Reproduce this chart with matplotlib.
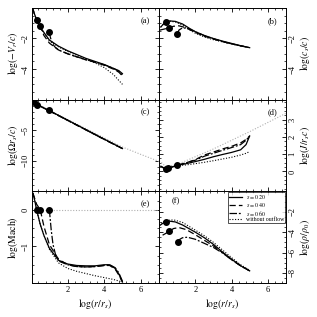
import matplotlib
matplotlib.use("Agg")
import matplotlib.pyplot as plt
from matplotlib.ticker import MultipleLocator

plt.rcParams['font.family'] = ['Liberation Serif', 'DejaVu Serif']
plt.rcParams['mathtext.fontset'] = 'stix'

# ---------------- data ----------------
series_labels = [r'$s=0.20$', r'$s=0.40$', r'$s=0.60$', 'without outflow']

# (a) log(-V_r/c)
a_x_s20 = [0.08, 0.2, 0.32, 0.5, 0.7, 1.0, 1.5, 2.0, 2.5, 3.0, 3.5, 4.0, 4.5, 4.8, 5.0]
a_y_s20 = [0.0, -0.45, -0.82, -1.25, -1.6, -2.1, -2.5, -2.8, -3.05, -3.3, -3.5, -3.7, -3.95, -4.1, -4.3]
a_x_s40 = [0.08, 0.2, 0.35, 0.5, 0.7, 1.0, 1.5, 2.0, 2.5, 3.0, 3.5, 4.0, 4.5, 4.8, 5.0]
a_y_s40 = [0.0, -0.5, -0.88, -1.21, -1.8, -2.3, -2.75, -3.0, -3.2, -3.4, -3.55, -3.75, -4.0, -4.2, -4.45]
a_x_s60 = [1.0, 1.05, 1.15, 1.3, 1.5, 2.0, 2.5, 3.0, 3.5, 4.0, 4.5, 4.8, 5.0]
a_y_s60 = [-1.57, -1.9, -2.3, -2.55, -2.75, -3.0, -3.2, -3.38, -3.55, -3.72, -3.95, -4.15, -4.4]
a_x_no = [0.08, 0.2, 0.32, 0.5, 0.7, 1.0, 1.5, 2.0, 2.5, 3.0, 3.5, 4.0, 4.5, 5.0]
a_y_no = [0.0, -0.45, -0.82, -1.25, -1.65, -2.15, -2.55, -2.85, -3.1, -3.35, -3.6, -3.9, -4.35, -5.0]
a_dot_x = [0.32, 0.5, 1.0]
a_dot_y = [-0.82, -1.21, -1.57]

# (b) log(c_s/c)
b_x_s20 = [0.1, 0.25, 0.38, 0.6, 0.9, 1.3, 1.7, 2.0, 2.5, 3.0, 3.5, 4.0, 4.5, 5.0]
b_y_s20 = [-1.25, -1.05, -0.92, -0.85, -0.88, -1.05, -1.35, -1.55, -1.8, -2.0, -2.17, -2.32, -2.47, -2.6]
b_x_s40 = [0.05, 0.3, 0.53, 0.8, 1.1, 1.5, 2.0, 2.5, 3.0, 3.5, 4.0, 4.5, 5.0]
b_y_s40 = [-1.45, -1.38, -1.31, -1.2, -1.17, -1.3, -1.6, -1.85, -2.03, -2.2, -2.35, -2.48, -2.6]
b_x_s60 = [1.02, 1.1, 1.3, 1.6, 2.0, 2.5, 3.0, 3.5, 4.0, 4.5, 5.0]
b_y_s60 = [-1.68, -1.45, -1.3, -1.35, -1.55, -1.82, -2.02, -2.2, -2.35, -2.48, -2.6]
b_x_no = [0.1, 0.25, 0.38, 0.6, 0.9, 1.3, 1.7, 2.0, 2.5, 3.0, 3.5, 4.0, 4.5, 5.0]
b_y_no = [-1.25, -1.05, -0.92, -0.87, -0.92, -1.12, -1.45, -1.65, -1.9, -2.08, -2.22, -2.35, -2.48, -2.6]
b_dot_x = [0.38, 0.53, 1.02]
b_dot_y = [-0.92, -1.31, -1.68]

# (c) log(Omega r_s/c)
c_x_s20 = [0.1, 0.3, 0.5, 1.0, 2.0, 3.0, 4.0, 5.0]
c_y_s20 = [-0.3, -0.75, -1.05, -1.8, -3.35, -4.9, -6.45, -8.0]
c_x_s40 = [0.1, 0.3, 0.5, 1.0, 2.0, 3.0, 4.0, 5.0]
c_y_s40 = [-0.3, -0.78, -1.1, -1.85, -3.4, -4.95, -6.5, -8.0]
c_x_s60 = [1.0, 2.0, 3.0, 4.0, 5.0]
c_y_s60 = [-1.8, -3.38, -4.95, -6.5, -8.0]
c_x_no = [0.1, 0.3, 0.5, 1.0, 2.0, 3.0, 4.0, 5.0]
c_y_no = [-0.3, -0.75, -1.05, -1.8, -3.35, -4.9, -6.45, -8.0]
c_x_kep = [0.1, 1.0, 2.0, 3.0, 4.0, 5.0, 6.0, 7.0]
c_y_kep = [-0.3, -1.75, -3.25, -4.75, -6.25, -7.75, -8.95, -10.1]
c_dot_x = [0.15, 0.34, 0.98]
c_dot_y = [-0.43, -0.8, -1.77]

# (d) log(J/(r_s c))
d_x_s20 = [0.1, 0.25, 0.4, 0.7, 1.0, 1.5, 2.0, 2.5, 3.0, 3.5, 4.0, 4.5, 4.8, 5.0]
d_y_s20 = [0.3, 0.2, 0.17, 0.25, 0.35, 0.45, 0.57, 0.7, 0.85, 0.98, 1.1, 1.25, 1.55, 2.05]
d_x_s40 = [0.1, 0.25, 0.4, 0.7, 1.0, 1.5, 2.0, 2.5, 3.0, 3.5, 4.0, 4.5, 4.8, 5.0]
d_y_s40 = [0.3, 0.22, 0.18, 0.25, 0.35, 0.5, 0.68, 0.95, 1.12, 1.3, 1.45, 1.65, 1.85, 2.05]
d_x_s60 = [1.0, 1.5, 2.0, 2.5, 3.0, 3.5, 4.0, 4.5, 4.8, 5.0]
d_y_s60 = [0.35, 0.5, 0.65, 0.88, 1.05, 1.22, 1.38, 1.55, 1.8, 2.05]
d_x_no = [0.1, 0.25, 0.4, 0.7, 1.0, 1.5, 2.0, 2.5, 3.0, 3.5, 4.0, 4.5, 4.8, 5.0]
d_y_no = [0.3, 0.2, 0.17, 0.25, 0.33, 0.38, 0.45, 0.53, 0.62, 0.72, 0.82, 0.95, 1.05, 1.15]
d_x_kep = [0.0, 0.1, 0.3, 0.5, 1.0, 2.0, 3.0, 4.0, 5.0, 6.0, 7.0]
d_y_kep = [0.6, 0.55, 0.35, 0.3, 0.4, 0.85, 1.3, 1.8, 2.3, 2.83, 3.36]
d_dot_x = [0.38, 0.5, 1.02]
d_dot_y = [0.17, 0.2, 0.35]

# (e) log(Mach)
e_x_s20 = [0.1, 0.2, 0.3, 0.5, 0.7, 1.0, 1.5, 2.0, 2.5, 3.0, 3.5, 4.0, 4.3, 4.6, 4.8, 5.0]
e_y_s20 = [0.45, 0.25, 0.0, -0.4, -0.7, -1.05, -1.38, -1.48, -1.52, -1.53, -1.53, -1.5, -1.5, -1.6, -1.75, -1.97]
e_x_s40 = [0.1, 0.2, 0.3, 0.5, 0.7, 1.0, 1.5, 2.0, 2.5, 3.0, 3.5, 4.0, 4.3, 4.6, 4.8, 5.0]
e_y_s40 = [0.45, 0.3, 0.15, 0.0, -0.45, -0.95, -1.35, -1.5, -1.55, -1.56, -1.55, -1.52, -1.52, -1.62, -1.78, -1.97]
e_x_s60 = [1.0, 1.1, 1.2, 1.35, 1.6, 2.0, 2.5, 3.0, 3.5, 4.0, 4.3, 4.6, 4.8, 5.0]
e_y_s60 = [0.0, -0.55, -0.95, -1.25, -1.42, -1.5, -1.55, -1.56, -1.55, -1.52, -1.5, -1.58, -1.72, -1.95]
e_x_no = [0.1, 0.2, 0.3, 0.5, 0.7, 1.0, 1.5, 2.0, 2.5, 3.0, 3.5, 4.0, 4.5, 5.0]
e_y_no = [0.45, 0.25, 0.0, -0.4, -0.7, -1.08, -1.45, -1.6, -1.68, -1.74, -1.8, -1.85, -1.9, -1.97]
e_x_sonic = [0.0, 7.0]
e_y_sonic = [0.0, 0.0]
e_dot_x = [0.3, 0.5, 1.0]
e_dot_y = [0.0, 0.0, 0.0]

# (f) log(rho/rho_0)
f_x_s20 = [0.0, 0.2, 0.38, 0.6, 0.9, 1.3, 1.7, 2.0, 2.5, 3.0, 3.5, 4.0, 4.5, 5.0]
f_y_s20 = [-3.4, -3.15, -2.96, -2.93, -3.0, -3.3, -3.7, -4.0, -4.55, -5.2, -5.95, -6.65, -7.3, -7.8]
f_x_s40 = [0.2, 0.4, 0.56, 0.8, 1.1, 1.5, 2.0, 2.5, 3.0, 3.5, 4.0, 4.5, 5.0]
f_y_s40 = [-4.3, -4.1, -3.93, -3.65, -3.55, -3.75, -4.25, -4.8, -5.35, -6.0, -6.7, -7.3, -7.8]
f_x_s60 = [1.05, 1.15, 1.3, 1.57, 2.0, 2.5, 3.0, 3.5, 4.0, 4.5, 5.0]
f_y_s60 = [-5.0, -4.7, -4.55, -4.5, -4.7, -5.1, -5.5, -6.05, -6.7, -7.3, -7.8]
f_x_no = [0.0, 0.2, 0.4, 0.82, 1.3, 2.0, 2.5, 3.0, 3.5, 4.0, 4.5, 5.0]
f_y_no = [-3.3, -3.0, -2.85, -2.8, -3.05, -3.8, -4.35, -5.0, -5.75, -6.5, -7.2, -7.75]
f_dot_x = [0.38, 0.56, 1.05]
f_dot_y = [-2.96, -3.93, -5.0]

panel_tags = ['(a)', '(b)', '(c)', '(d)', '(e)', '(f)']
y_labels = [r'$\log(-V_r/c)$', r'$\log(c_s/c)$', r'$\log(\Omega r_s/c)$',
            r'$\log(J/r_s c)$', r'$\log(\mathrm{Mach})$', r'$\log(\rho/\rho_0)$']
y_limits = [(-6, 0), (-6, 0), (-15, 0), (-1.15, 4.15), (-2, 0.5), (-9, 0)]
y_ticks = [[-4, -2], [-4, -2], [-10, -5], [0, 1, 2, 3], [-1, 0], [-8, -6, -4, -2]]
y_minor = [0.5, 0.5, 1.0, 0.25, 0.25, 0.5]
x_ticks = [2, 4, 6]

# ---------------- figure ----------------
fig, axes = plt.subplots(3, 2, figsize=(3.17, 3.17), dpi=100, sharex=False)
fig.subplots_adjust(left=0.101, right=0.902, top=0.975, bottom=0.107, hspace=0, wspace=0)

styles = [dict(color='black', lw=0.9, ls='-'),
          dict(color='black', lw=0.9, ls=(0, (5, 2.5))),
          dict(color='black', lw=0.9, ls=(0, (6, 1.5, 1.5, 1.5))),
          dict(color='black', lw=0.8, ls=(0, (1, 1.5)))]
gray = dict(color='#b0b0b0', lw=0.8, ls=(0, (1, 1.5)))

data = [
    [(a_x_s20, a_y_s20), (a_x_s40, a_y_s40), (a_x_s60, a_y_s60), (a_x_no, a_y_no), None, (a_dot_x, a_dot_y)],
    [(b_x_s20, b_y_s20), (b_x_s40, b_y_s40), (b_x_s60, b_y_s60), (b_x_no, b_y_no), None, (b_dot_x, b_dot_y)],
    [(c_x_s20, c_y_s20), (c_x_s40, c_y_s40), (c_x_s60, c_y_s60), (c_x_no, c_y_no), (c_x_kep, c_y_kep), (c_dot_x, c_dot_y)],
    [(d_x_s20, d_y_s20), (d_x_s40, d_y_s40), (d_x_s60, d_y_s60), (d_x_no, d_y_no), (d_x_kep, d_y_kep), (d_dot_x, d_dot_y)],
    [(e_x_s20, e_y_s20), (e_x_s40, e_y_s40), (e_x_s60, e_y_s60), (e_x_no, e_y_no), (e_x_sonic, e_y_sonic), (e_dot_x, e_dot_y)],
    [(f_x_s20, f_y_s20), (f_x_s40, f_y_s40), (f_x_s60, f_y_s60), (f_x_no, f_y_no), None, (f_dot_x, f_dot_y)],
]

for i, ax in enumerate(axes.flat):
    d = data[i]
    if d[4] is not None:
        ax.plot(d[4][0], d[4][1], **gray)
    handles = []
    for k in range(4):
        h, = ax.plot(d[k][0], d[k][1], **styles[k])
        handles.append(h)
    ax.plot(d[5][0], d[5][1], 'o', color='black', ms=4, zorder=5)

    ax.set_xlim(0.05, 7.0)
    ax.set_ylim(*y_limits[i])
    ax.set_yticks(y_ticks[i])
    ax.yaxis.set_minor_locator(MultipleLocator(y_minor[i]))
    ax.set_xticks(x_ticks)
    ax.xaxis.set_minor_locator(MultipleLocator(0.4))
    ax.tick_params(which='both', direction='in', top=True, bottom=True, left=True, right=True,
                   labelsize=6, pad=2)
    ax.tick_params(which='major', length=3, width=0.6)
    ax.tick_params(which='minor', length=1.6, width=0.5)
    for sp in ax.spines.values():
        sp.set_linewidth(0.7)

    col = i % 2
    row = i // 2
    if col == 1:
        ax.yaxis.set_label_position('right')
        ax.tick_params(axis='y', labelleft=False, labelright=True)
        ax.set_xlim(0.0, 7.0)
    for lab in ax.get_yticklabels():
        lab.set_rotation(90)
        lab.set_va('center')
    ax.set_ylabel(y_labels[i], fontsize=7, labelpad=1)
    if row < 2:
        ax.tick_params(axis='x', labelbottom=False)
    else:
        ax.set_xlabel(r'$\log(r/r_s)$', fontsize=7, labelpad=2)

    if i == 5:
        ax.text(0.1, 0.89, panel_tags[i], transform=ax.transAxes, fontsize=6, ha='left', va='center')
        leg = ax.legend(handles, series_labels, loc='upper right', fontsize=4.2, frameon=True,
                        fancybox=False, edgecolor='black', borderpad=0.2, labelspacing=-0.05,
                        handlelength=2.2, handletextpad=0.6, borderaxespad=0.1)
        leg.get_frame().set_linewidth(0.6)
    else:
        ax.text(0.93, 0.86, panel_tags[i], transform=ax.transAxes, fontsize=6, ha='right', va='center')

fig.savefig('out.png', dpi=100)
